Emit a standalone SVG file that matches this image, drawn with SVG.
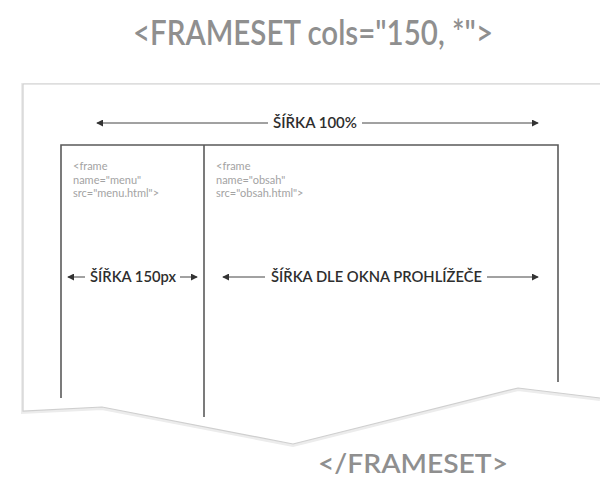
<svg xmlns="http://www.w3.org/2000/svg" width="600" height="478" viewBox="0 0 600 478">
<defs>
<style>
.title{font-family:Lato,"Open Sans","Liberation Sans",sans-serif;fill:#8f8f8f;font-weight:600}
.code{font-family:Lato,"Open Sans","Liberation Sans",sans-serif;fill:#a3a3a3;font-size:11px}
.lbl{font-family:Lato,"Open Sans","Liberation Sans",sans-serif;fill:#2e2e2e;font-weight:600}
.frame{fill:none;stroke:#5a5a5a;stroke-width:1.6}
.conn{fill:none;stroke:#444;stroke-width:1}
.edge{fill:none;stroke:#cfcfcf;stroke-width:1.2}
.shadow{fill:none;stroke:#ececec;stroke-width:4}
</style>
<marker id="ah" viewBox="0 0 8 8" refX="7" refY="4" markerWidth="7" markerHeight="7" markerUnits="userSpaceOnUse" orient="auto">
<path d="M0,0 L8,4 L0,8 Z" fill="#333"/>
</marker>
</defs>
<rect width="600" height="478" fill="#fff"/>
<text class="title" x="133" y="45" font-size="34" textLength="360" lengthAdjust="spacingAndGlyphs">&lt;FRAMESET cols="150, *"&gt;</text>
<g id="panel">
<polyline class="shadow" points="600,85 23,85 23,412 102,408 293,445 518,389 600,399"/>
<path d="M600,84 L23,84 L23,411 L102,407 L293,444 L518,388 L600,398 Z" fill="#fff"/>
<polyline class="edge" points="600,84 23,84 23,411 102,407 293,444 518,388 600,398"/>
</g>
<g id="frameset">
<polyline class="frame" points="61,398 61,145 558,145 558,382"/>
</g>
<g id="frame-menu">
<line class="frame" x1="204" y1="145" x2="204" y2="417"/>
<text class="code" x="73" y="170">&lt;frame</text>
<text class="code" x="73" y="183.5">name="menu"</text>
<text class="code" x="73" y="197">src="menu.html"&gt;</text>
</g>
<g id="frame-obsah">
<text class="code" x="216" y="170">&lt;frame</text>
<text class="code" x="216" y="183.5">name="obsah"</text>
<text class="code" x="216" y="197">src="obsah.html"&gt;</text>
</g>
<g id="labels">
<text class="lbl" x="273" y="128" font-size="14.5" textLength="84" lengthAdjust="spacingAndGlyphs">ŠÍŘKA 100%</text>
<text class="lbl" x="90" y="282" font-size="15.5" textLength="86" lengthAdjust="spacingAndGlyphs">ŠÍŘKA 150px</text>
<text class="lbl" x="271" y="282" font-size="15.5" textLength="211" lengthAdjust="spacingAndGlyphs">ŠÍŘKA DLE OKNA PROHLÍŽEČE</text>
</g>
<g id="connectors">
<line class="conn" x1="268" y1="123" x2="97" y2="123" marker-end="url(#ah)"/>
<line class="conn" x1="362" y1="123" x2="538" y2="123" marker-end="url(#ah)"/>
<line class="conn" x1="85" y1="277" x2="68" y2="277" marker-end="url(#ah)"/>
<line class="conn" x1="180" y1="277" x2="197" y2="277" marker-end="url(#ah)"/>
<line class="conn" x1="265" y1="277" x2="223" y2="277" marker-end="url(#ah)"/>
<line class="conn" x1="487" y1="277" x2="538" y2="277" marker-end="url(#ah)"/>
</g>
<text class="title" x="318" y="473" font-size="26" textLength="190" lengthAdjust="spacingAndGlyphs">&lt;/FRAMESET&gt;</text>
</svg>
